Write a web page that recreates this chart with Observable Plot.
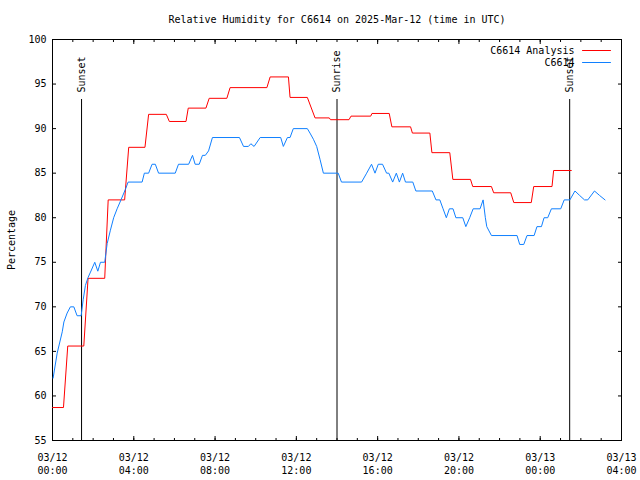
<!DOCTYPE html>
<html><head><meta charset="utf-8">
<script src="https://cdn.jsdelivr.net/npm/d3@7"></script>
<script src="https://cdn.jsdelivr.net/npm/@observablehq/plot@0.6"></script>
<style>body{margin:0;background:#fff}</style>
</head><body><div id="chart"></div>
<script>
// ---- data ----
const titleText = "Relative Humidity for C6614 on 2025-Mar-12 (time in UTC)";
const yLabel = "Percentage";
const seriesNames = ["C6614 Analysis", "C6614"];
const seriesColors = ["#ff0000", "#1080ff"];
// hours since 2025-03-12 00:00 UTC
const anaHours = [0,0.54,0.75,1.54,1.75,2.57,2.74,3.55,3.75,4.55,4.73,5.60,5.75,6.57,6.68,7.55,7.71,8.58,8.74,10.55,10.71,11.61,11.69,12.54,12.92,13.62,13.68,14.59,14.69,15.66,15.72,16.57,16.70,17.62,17.71,18.57,18.67,19.55,19.70,20.57,20.68,21.60,21.71,22.55,22.70,23.56,23.68,24.58,24.66,25.53];
const anaValues = [58.7,58.7,65.6,65.6,73.2,73.2,82,82,87.9,87.9,91.6,91.6,90.8,90.8,92.3,92.3,93.4,93.4,94.6,94.6,95.8,95.8,93.5,93.5,91.2,91.2,91,91,91.4,91.4,91.7,91.7,90.2,90.2,89.5,89.5,87.3,87.3,84.3,84.3,83.5,83.5,82.8,82.8,81.7,81.7,83.5,83.5,85.3,85.3];
const obsHours = [0.03,0.23,0.48,0.56,0.72,0.88,1.05,1.21,1.41,1.51,1.62,1.75,1.87,2.08,2.23,2.36,2.57,2.69,2.85,3.01,3.18,3.37,3.59,3.72,4.41,4.52,4.73,4.90,5.06,5.22,6.04,6.20,6.70,6.89,7.02,7.22,7.38,7.52,7.68,7.87,9.20,9.40,9.64,9.76,9.92,10.22,11.23,11.36,11.56,11.69,11.85,12.54,12.67,12.84,13.00,13.17,13.33,14.06,14.22,15.21,15.46,15.70,15.87,16.03,16.24,16.44,16.55,16.74,16.92,17.07,17.23,17.37,17.73,17.88,18.69,18.87,19.06,19.22,19.38,19.53,19.71,19.85,20.19,20.34,20.53,20.70,21.04,21.19,21.30,21.37,21.60,22.86,22.99,23.19,23.35,23.70,23.84,24.06,24.19,24.37,24.55,25.01,25.18,25.46,25.71,25.94,26.18,26.34,26.67,26.92,27.19];
const obsValues = [62,64.8,67.2,68.3,69.3,70,70,69,69,70.8,72.4,73.3,73.9,75,74,75,75,77.1,78.6,80,81,82,83.2,84,84,85,85,86,86,85,85,86,86,87,86,86,87,87,87.5,89,89,88,88,88.3,88,89,89,88,89,89,90,90,89.5,88.8,88,86.5,85,85,84,84,85,86,85,86,86,85,85,84,85,84,85,84,84,83,83,82,82,81,80,81,81,80,80,79,80,81,81,82,80,79,78,78,77,77,78,78,79,79,80,80,81,81,82,82,83,82.5,82,82,83,82.5,82];
const sunLabels = ["Sunset", "Sunrise", "Sunset"];
const sunHours = [1.43, 14.0, 25.45];
const xMajorHours = [0,4,8,12,16,20,24,28];
const xMinorHours = d3.range(0, 29);
const yTicks = [55,60,65,70,75,80,85,90,95,100];

// ---- build ----
const base = Date.UTC(2025, 2, 12);
const toDate = h => new Date(base + h * 3600000);
const ana = anaHours.map((h, i) => ({t: toDate(h), v: anaValues[i]}));
const obs = obsHours.map((h, i) => ({t: toDate(h), v: obsValues[i]}));
const sun = sunHours.map((h, i) => ({t: toDate(h), label: sunLabels[i]}));
const fmt = d3.utcFormat("%m/%d\n%H:%M");
const segShape = {draw(context, l) { context.moveTo(0, 0); context.lineTo(0, -l); }};
const black = "#000";

const chart = Plot.plot({
  width: 640, height: 480,
  marginLeft: 52, marginRight: 19, marginTop: 39, marginBottom: 40,
  style: {fontFamily: "'DejaVu Sans Mono', monospace", fontSize: "10px", background: "#fff", color: "#000"},
  x: {type: "utc", domain: [toDate(0), toDate(28)]},
  y: {domain: [55, 100]},
  marks: [
    // ticks (inward, mirrored)
    Plot.axisX({anchor: "bottom", ticks: xMinorHours.map(toDate), tickSize: 2, dy: -2, fill: "none", label: null}),
    Plot.axisX({anchor: "top", ticks: xMinorHours.map(toDate), tickSize: 2, dy: 2, fill: "none", label: null}),
    Plot.axisX({anchor: "bottom", ticks: xMajorHours.map(toDate), tickSize: 4, dy: -4, fill: "none", label: null}),
    Plot.axisX({anchor: "top", ticks: xMajorHours.map(toDate), tickSize: 4, dy: 4, fill: "none", label: null}),
    Plot.axisX({anchor: "bottom", ticks: xMajorHours.map(toDate), tickSize: 0, tickPadding: 11, tickFormat: fmt, lineHeight: 1.3, label: null}),
    Plot.axisY({anchor: "left", ticks: yTicks, tickSize: 4, dx: 4, fill: "none", label: null}),
    Plot.axisY({anchor: "right", ticks: yTicks, tickSize: 4, dx: -4, fill: "none", label: null}),
    Plot.axisY({anchor: "left", ticks: yTicks, tickSize: 0, tickPadding: 6, label: null}),
    Plot.frame({stroke: black}),
    // sunrise / sunset markers
    Plot.ruleX(sun, {x: "t", insetTop: 60, stroke: black}),
    Plot.text(sun, {x: "t", text: "label", frameAnchor: "top", dy: 53, rotate: -90, textAnchor: "start", lineAnchor: "middle", fill: black}),
    // series
    Plot.line(ana, {x: "t", y: "v", stroke: seriesColors[0], strokeWidth: 1}),
    Plot.line(obs, {x: "t", y: "v", stroke: seriesColors[1], strokeWidth: 1}),
    // legend
    ...seriesNames.map((name, i) => Plot.text([name], {text: d => d, frameAnchor: "top-right", dx: -47, dy: 11 + 12 * i, textAnchor: "end", lineAnchor: "middle", fill: black})),
    ...seriesNames.map((name, i) => Plot.vector([name], {frameAnchor: "top-right", dx: -39, dy: 11 + 12 * i, length: 28, rotate: 90, anchor: "start", shape: segShape, stroke: seriesColors[i], strokeWidth: 1})),
    // title and y label
    Plot.text([titleText], {text: d => d, frameAnchor: "top", dy: -20, textAnchor: "middle", lineAnchor: "middle", fill: black}),
    Plot.text([yLabel], {text: d => d, frameAnchor: "left", dx: -41, rotate: -90, textAnchor: "middle", lineAnchor: "middle", fill: black})
  ]
});
document.getElementById("chart").append(chart);
</script>
</body></html>
